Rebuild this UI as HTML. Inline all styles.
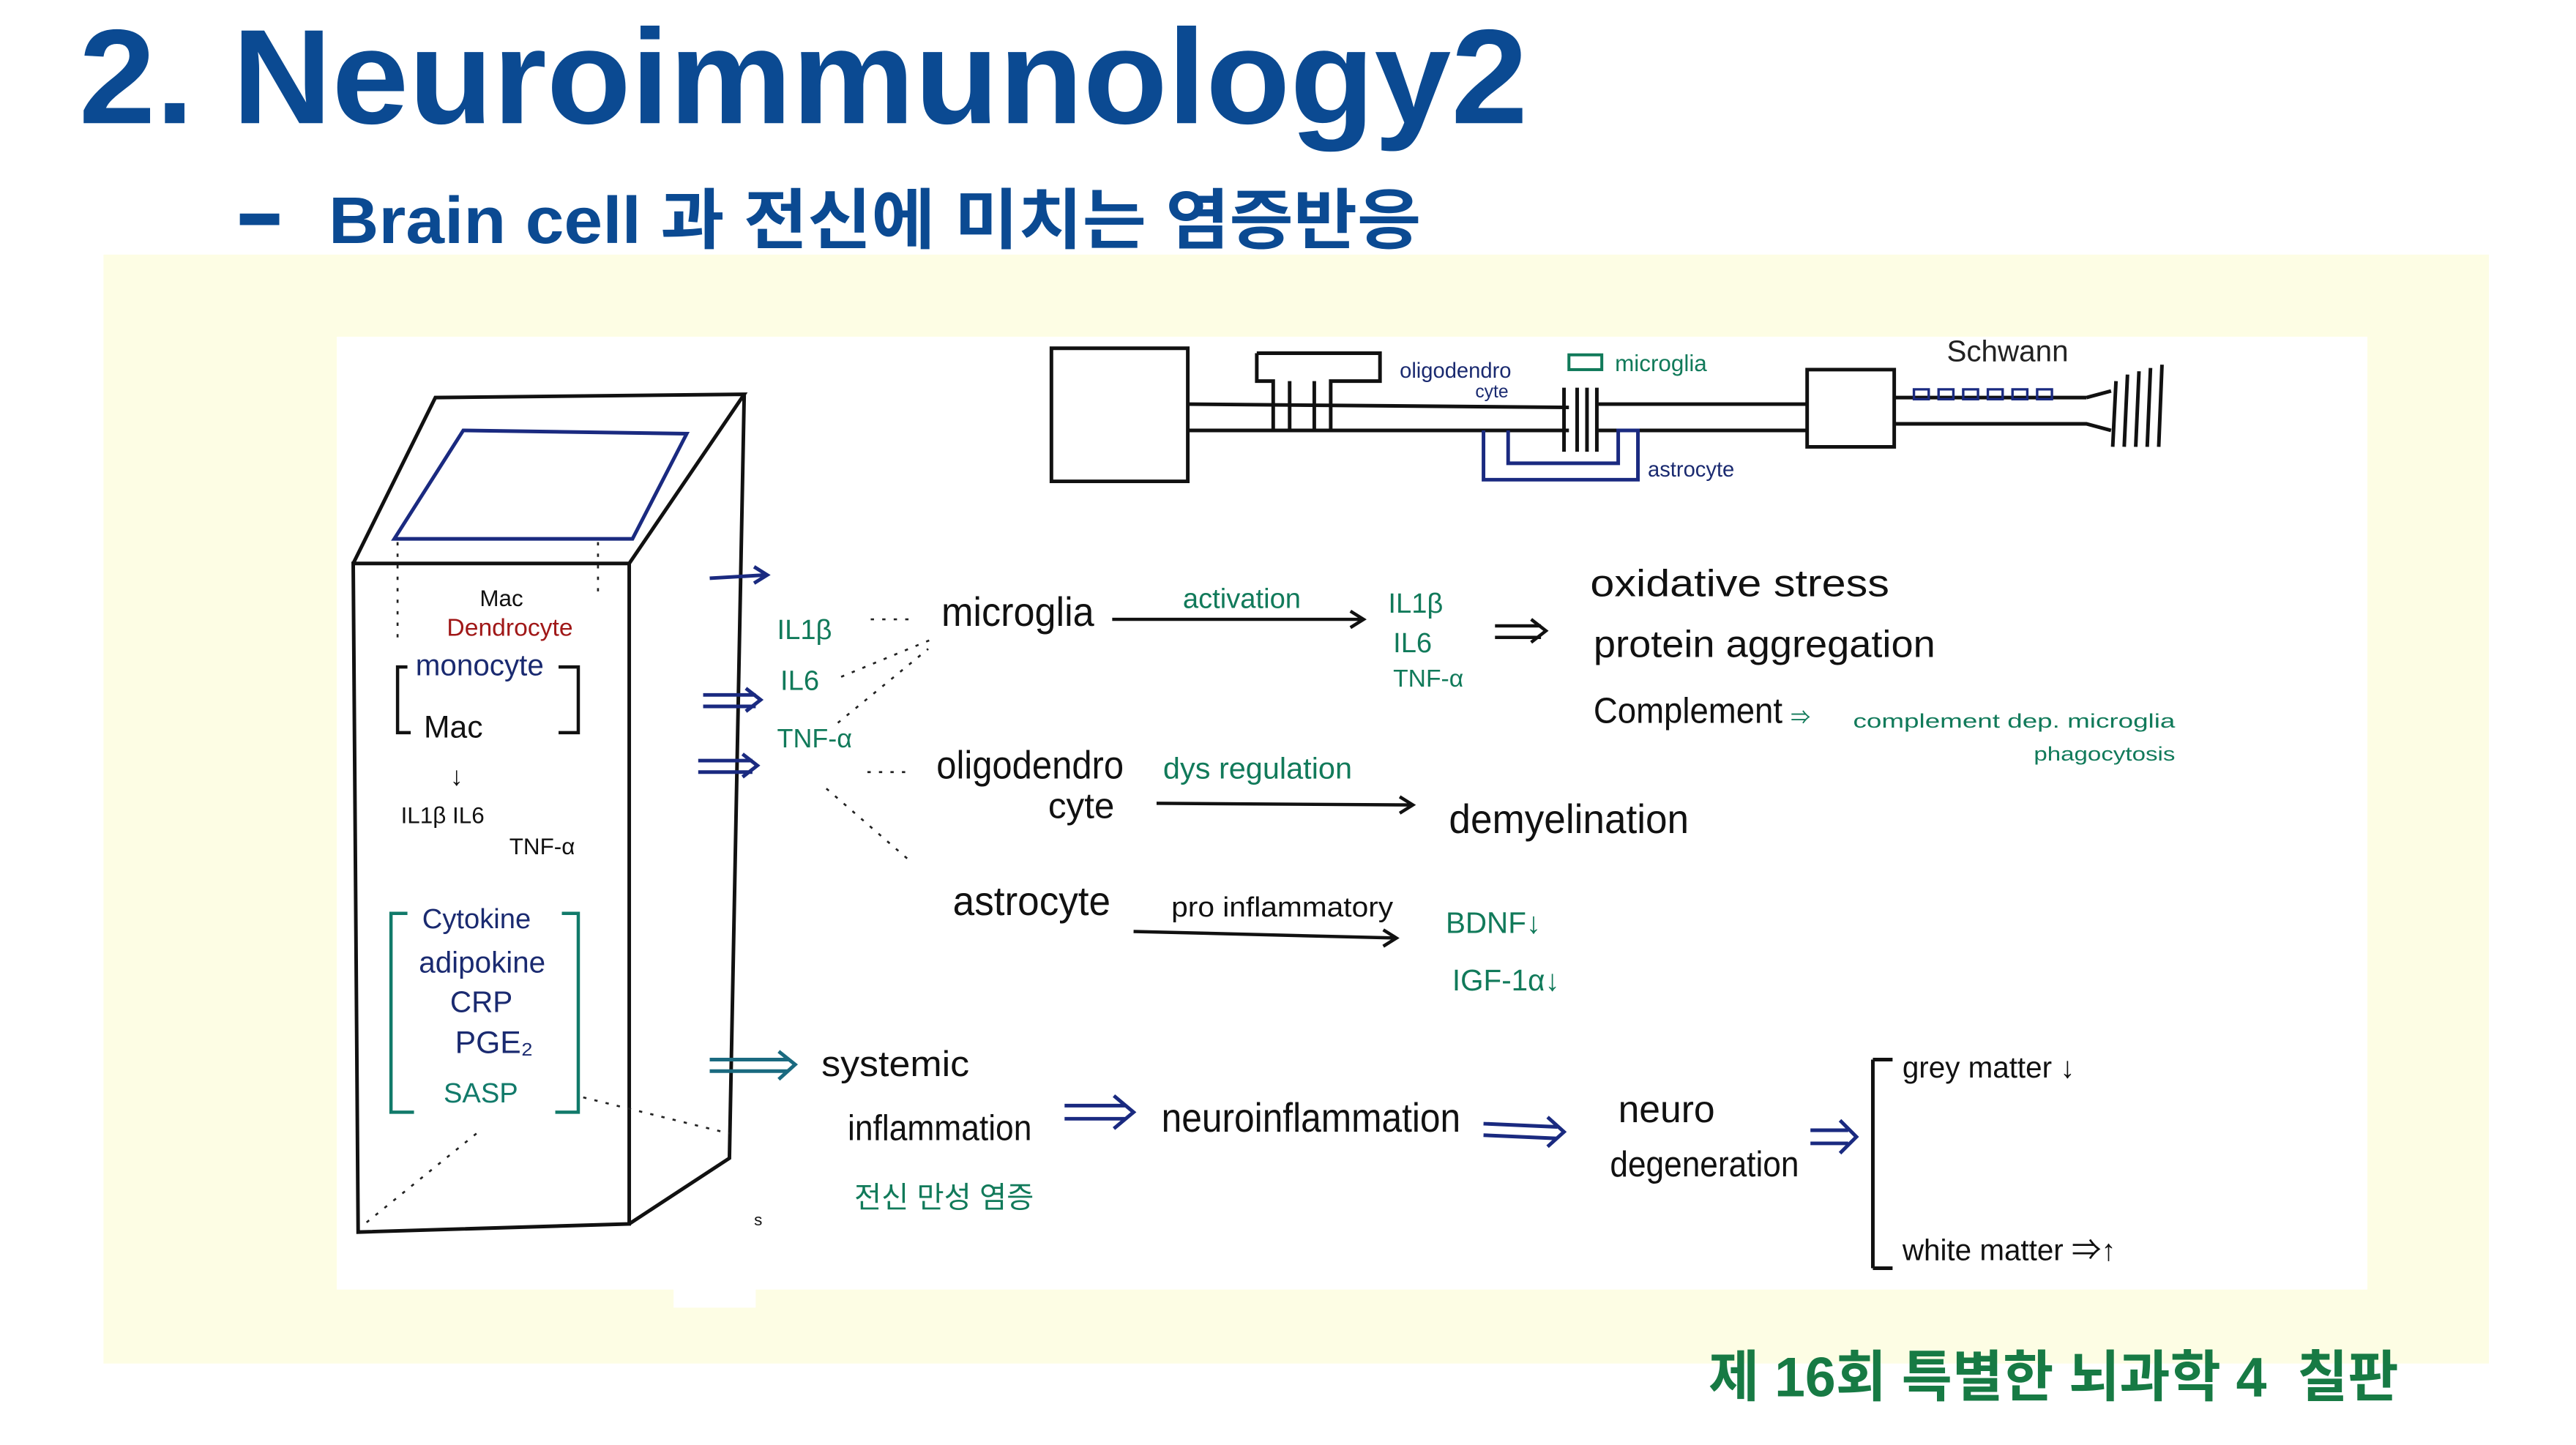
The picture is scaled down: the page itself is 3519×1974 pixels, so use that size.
<!DOCTYPE html>
<html><head><meta charset="utf-8"><style>
html,body{margin:0;padding:0;background:#fff;}
svg{display:block;}
text{font-family:"Liberation Sans","Noto Sans CJK KR",sans-serif;}
</style></head><body>
<svg width="3519" height="1974" viewBox="0 0 1568 879.6" preserveAspectRatio="none" xmlns="http://www.w3.org/2000/svg">
<rect width="1568" height="880" fill="#fff"/>
<text x="48" y="75" font-size="82" font-weight="bold" fill="#0b4a92" textLength="882" lengthAdjust="spacingAndGlyphs">2. Neuroimmunology2</text>
<rect x="146" y="130" width="24" height="7" fill="#0b4a92"/>
<text x="200" y="148" font-size="40" font-weight="bold" fill="#0b4a92" textLength="665" lengthAdjust="spacingAndGlyphs">Brain cell 과 전신에 미치는 염증반응</text>
<rect x="63" y="155" width="1452" height="675" fill="#fdfde4"/>
<rect x="205" y="205" width="1236" height="580" fill="#fff"/>
<rect x="410" y="780" width="50" height="16" fill="#fff"/>
<text x="1040" y="850" font-size="34" font-weight="bold" fill="#177a44" textLength="420" lengthAdjust="spacingAndGlyphs">제 16회 특별한 뇌과학 4 &#160;칠판</text>

<g fill="none" stroke="#111" stroke-width="2.2">
<path d="M215 343 L383 343 L383 745 L218 750 Z"/>
<path d="M215 343 L265 242 L453 240 L383 343"/>
<path d="M453 240 L444 705 L383 745"/>
<path d="M282 262 L418 264 L385 328 L240 328 Z" stroke="#1a2a80"/>
</g>
<g fill="none" stroke="#222" stroke-width="1.2" stroke-dasharray="2 5">
<path d="M242 330 L242 390"/><path d="M364 330 L364 365"/>
<path d="M355 668 L444 690"/><path d="M290 690 L222 745"/>
<path d="M530 377 L557 377"/><path d="M512 412 L570 388"/><path d="M510 440 L565 395"/>
<path d="M528 470 L552 470"/><path d="M503 480 L555 525"/>
</g>
<g fill="none" stroke="#111" stroke-width="2.2">
<path d="M640 212 L723 212 L723 293 L640 293 Z"/>
<path d="M723 246 L955 248 M973 246 L1100 246 M723 262 L955 262 M973 262 L1100 262"/>
<path d="M765 215 L840 215 L840 232 L810 232 L810 262 M765 215 L765 232 L775 232 L775 262 M785 232 L785 262 M800 232 L800 262"/>
<path d="M952 236 L952 275 M960 236 L960 275 M966 236 L966 275 M972 236 L972 275"/>
<path d="M903 262 L903 292 L997 292 L997 262 L985 262 L985 282 L918 282 L918 262" stroke="#1a2a80"/>
<path d="M1100 225 L1153 225 L1153 272 L1100 272 Z"/>
<path d="M1153 242 L1270 242 M1153 258 L1270 258 L1285 262 M1270 242 L1285 238"/>
<path d="M1288 232 L1286 272 M1295 228 L1293 272 M1302 226 L1300 272 M1309 224 L1307 272 M1316 222 L1314 272"/>
</g>
<g fill="none" stroke="#1a2a80" stroke-width="1.5">
<path d="M1165 237 h9 v6 h-9z M1180 237 h9 v6 h-9z M1195 237 h9 v6 h-9z M1210 237 h9 v6 h-9z M1225 237 h9 v6 h-9z M1240 237 h9 v6 h-9z"/>
</g>
<rect x="955" y="216" width="20" height="9" fill="none" stroke="#117a5a" stroke-width="1.8"/>
<g font-size="13" fill="#1a2a70">
<text x="852" y="230">oligodendro</text><text x="898" y="242" font-size="11">cyte</text>
<text x="1003" y="290">astrocyte</text>
<text x="1185" y="220" font-size="18" fill="#222">Schwann</text>
</g>
<text x="983" y="226" font-size="14" fill="#117a5a">microglia</text>

<text x="292" y="369" font-size="14" fill="#111">Mac</text>
<text x="272" y="387" font-size="15" fill="#a01818">Dendrocyte</text>
<text x="253" y="411" font-size="18" fill="#1a2a70">monocyte</text>
<g fill="none" stroke="#111" stroke-width="2">
<path d="M248 406 L242 406 L242 446 L250 446 M340 406 L352 406 L352 446 L340 446"/>
</g>
<text x="258" y="449" font-size="19" fill="#111">Mac</text>
<text x="274" y="478" font-size="16" fill="#111">↓</text>
<text x="244" y="501" font-size="14" fill="#111">IL1β  IL6</text>
<text x="310" y="520" font-size="14" fill="#111">TNF-α</text>
<path d="M248 556 L238 556 L238 677 L252 677 M342 556 L352 556 L352 677 L338 677" fill="none" stroke="#117a6a" stroke-width="2"/>
<text x="257" y="565" font-size="17" fill="#1a2a70">Cytokine</text>
<text x="255" y="592" font-size="18" fill="#1a2a70">adipokine</text>
<text x="274" y="616" font-size="18" fill="#1a2a70">CRP</text>
<text x="277" y="641" font-size="19" fill="#1a2a70">PGE₂</text>
<text x="270" y="671" font-size="17" fill="#117a6a">SASP</text>

<g fill="none" stroke="#1a2a80" stroke-width="2.2">
<path d="M432 352 L466 350 M459 345 L467 350 L459 355"/>
<path d="M428 423 L460 423 M428 430 L460 430 M454 419 L463 426 L454 433"/>
<path d="M425 463 L458 463 M425 470 L458 470 M452 459 L461 466 L452 473"/>
<path d="M432 645 L480 645 M432 652 L480 652 M474 640 L484 648 L474 657" stroke="#1a6a80"/>
<path d="M648 673 L685 673 M648 681 L685 681 M678 667 L690 677 L678 687"/>
<path d="M903 684 L948 686 M903 691 L948 693 M942 680 L952 689 L942 698"/>
<path d="M1102 688 L1125 688 M1102 696 L1125 696 M1120 682 L1130 692 L1120 702"/>
<path d="M1140 645 L1140 772 M1140 645 L1152 645 M1140 772 L1152 772" stroke="#111"/>
</g>
<g fill="none" stroke="#111" stroke-width="2">
<path d="M677 377 L830 377 M822 372 L830 377 L822 382"/>
<path d="M910 381 L938 381 M910 388 L938 388 M932 377 L941 384 L932 391"/>
<path d="M704 489 L860 490 M852 485 L860 490 L852 495"/>
<path d="M690 567 L850 571 M842 566 L850 571 L842 576"/>
</g>
<g fill="#117a5a">
<text x="473" y="389" font-size="17">IL1β</text>
<text x="475" y="420" font-size="17">IL6</text>
<text x="473" y="455" font-size="16">TNF-α</text>
<text x="720" y="370" font-size="17">activation</text>
<text x="845" y="373" font-size="17">IL1β</text>
<text x="848" y="397" font-size="17">IL6</text>
<text x="848" y="418" font-size="15">TNF-α</text>
<text x="1128" y="443" font-size="12" textLength="196" lengthAdjust="spacingAndGlyphs">complement dep. microglia</text>
<text x="1238" y="463" font-size="12" textLength="86" lengthAdjust="spacingAndGlyphs">phagocytosis</text>
<text x="708" y="474" font-size="18" textLength="115" lengthAdjust="spacingAndGlyphs">dys regulation</text>
<text x="880" y="568" font-size="18">BDNF↓</text>
<text x="884" y="603" font-size="18">IGF-1α↓</text>
<text x="520" y="735" font-size="18">전신 만성 염증</text>
</g>
<g fill="#111">
<text x="573" y="381" font-size="25" textLength="93" lengthAdjust="spacingAndGlyphs">microglia</text>
<text x="968" y="363" font-size="23" textLength="182" lengthAdjust="spacingAndGlyphs">oxidative stress</text>
<text x="970" y="400" font-size="23" textLength="208" lengthAdjust="spacingAndGlyphs">protein aggregation</text>
<text x="970" y="440" font-size="22" textLength="115" lengthAdjust="spacingAndGlyphs">Complement</text>
<text x="1090" y="441" font-size="12" fill="#117a5a">⇒</text>
<text x="570" y="474" font-size="24" textLength="114" lengthAdjust="spacingAndGlyphs">oligodendro</text>
<text x="638" y="498" font-size="22">cyte</text>
<text x="882" y="507" font-size="25" textLength="146" lengthAdjust="spacingAndGlyphs">demyelination</text>
<text x="580" y="557" font-size="25" textLength="96" lengthAdjust="spacingAndGlyphs">astrocyte</text>
<text x="713" y="558" font-size="17" textLength="135" lengthAdjust="spacingAndGlyphs">pro inflammatory</text>
<text x="500" y="655" font-size="22" textLength="90" lengthAdjust="spacingAndGlyphs">systemic</text>
<text x="516" y="694" font-size="22" textLength="112" lengthAdjust="spacingAndGlyphs">inflammation</text>
<text x="707" y="689" font-size="25" textLength="182" lengthAdjust="spacingAndGlyphs">neuroinflammation</text>
<text x="985" y="683" font-size="23">neuro</text>
<text x="980" y="716" font-size="22" textLength="115" lengthAdjust="spacingAndGlyphs">degeneration</text>
<text x="1158" y="656" font-size="18">grey matter ↓</text>
<text x="1158" y="767" font-size="18">white matter ⇒↑</text>
<text x="459" y="746" font-size="10">s</text>
</g>
</svg>
</body></html>
